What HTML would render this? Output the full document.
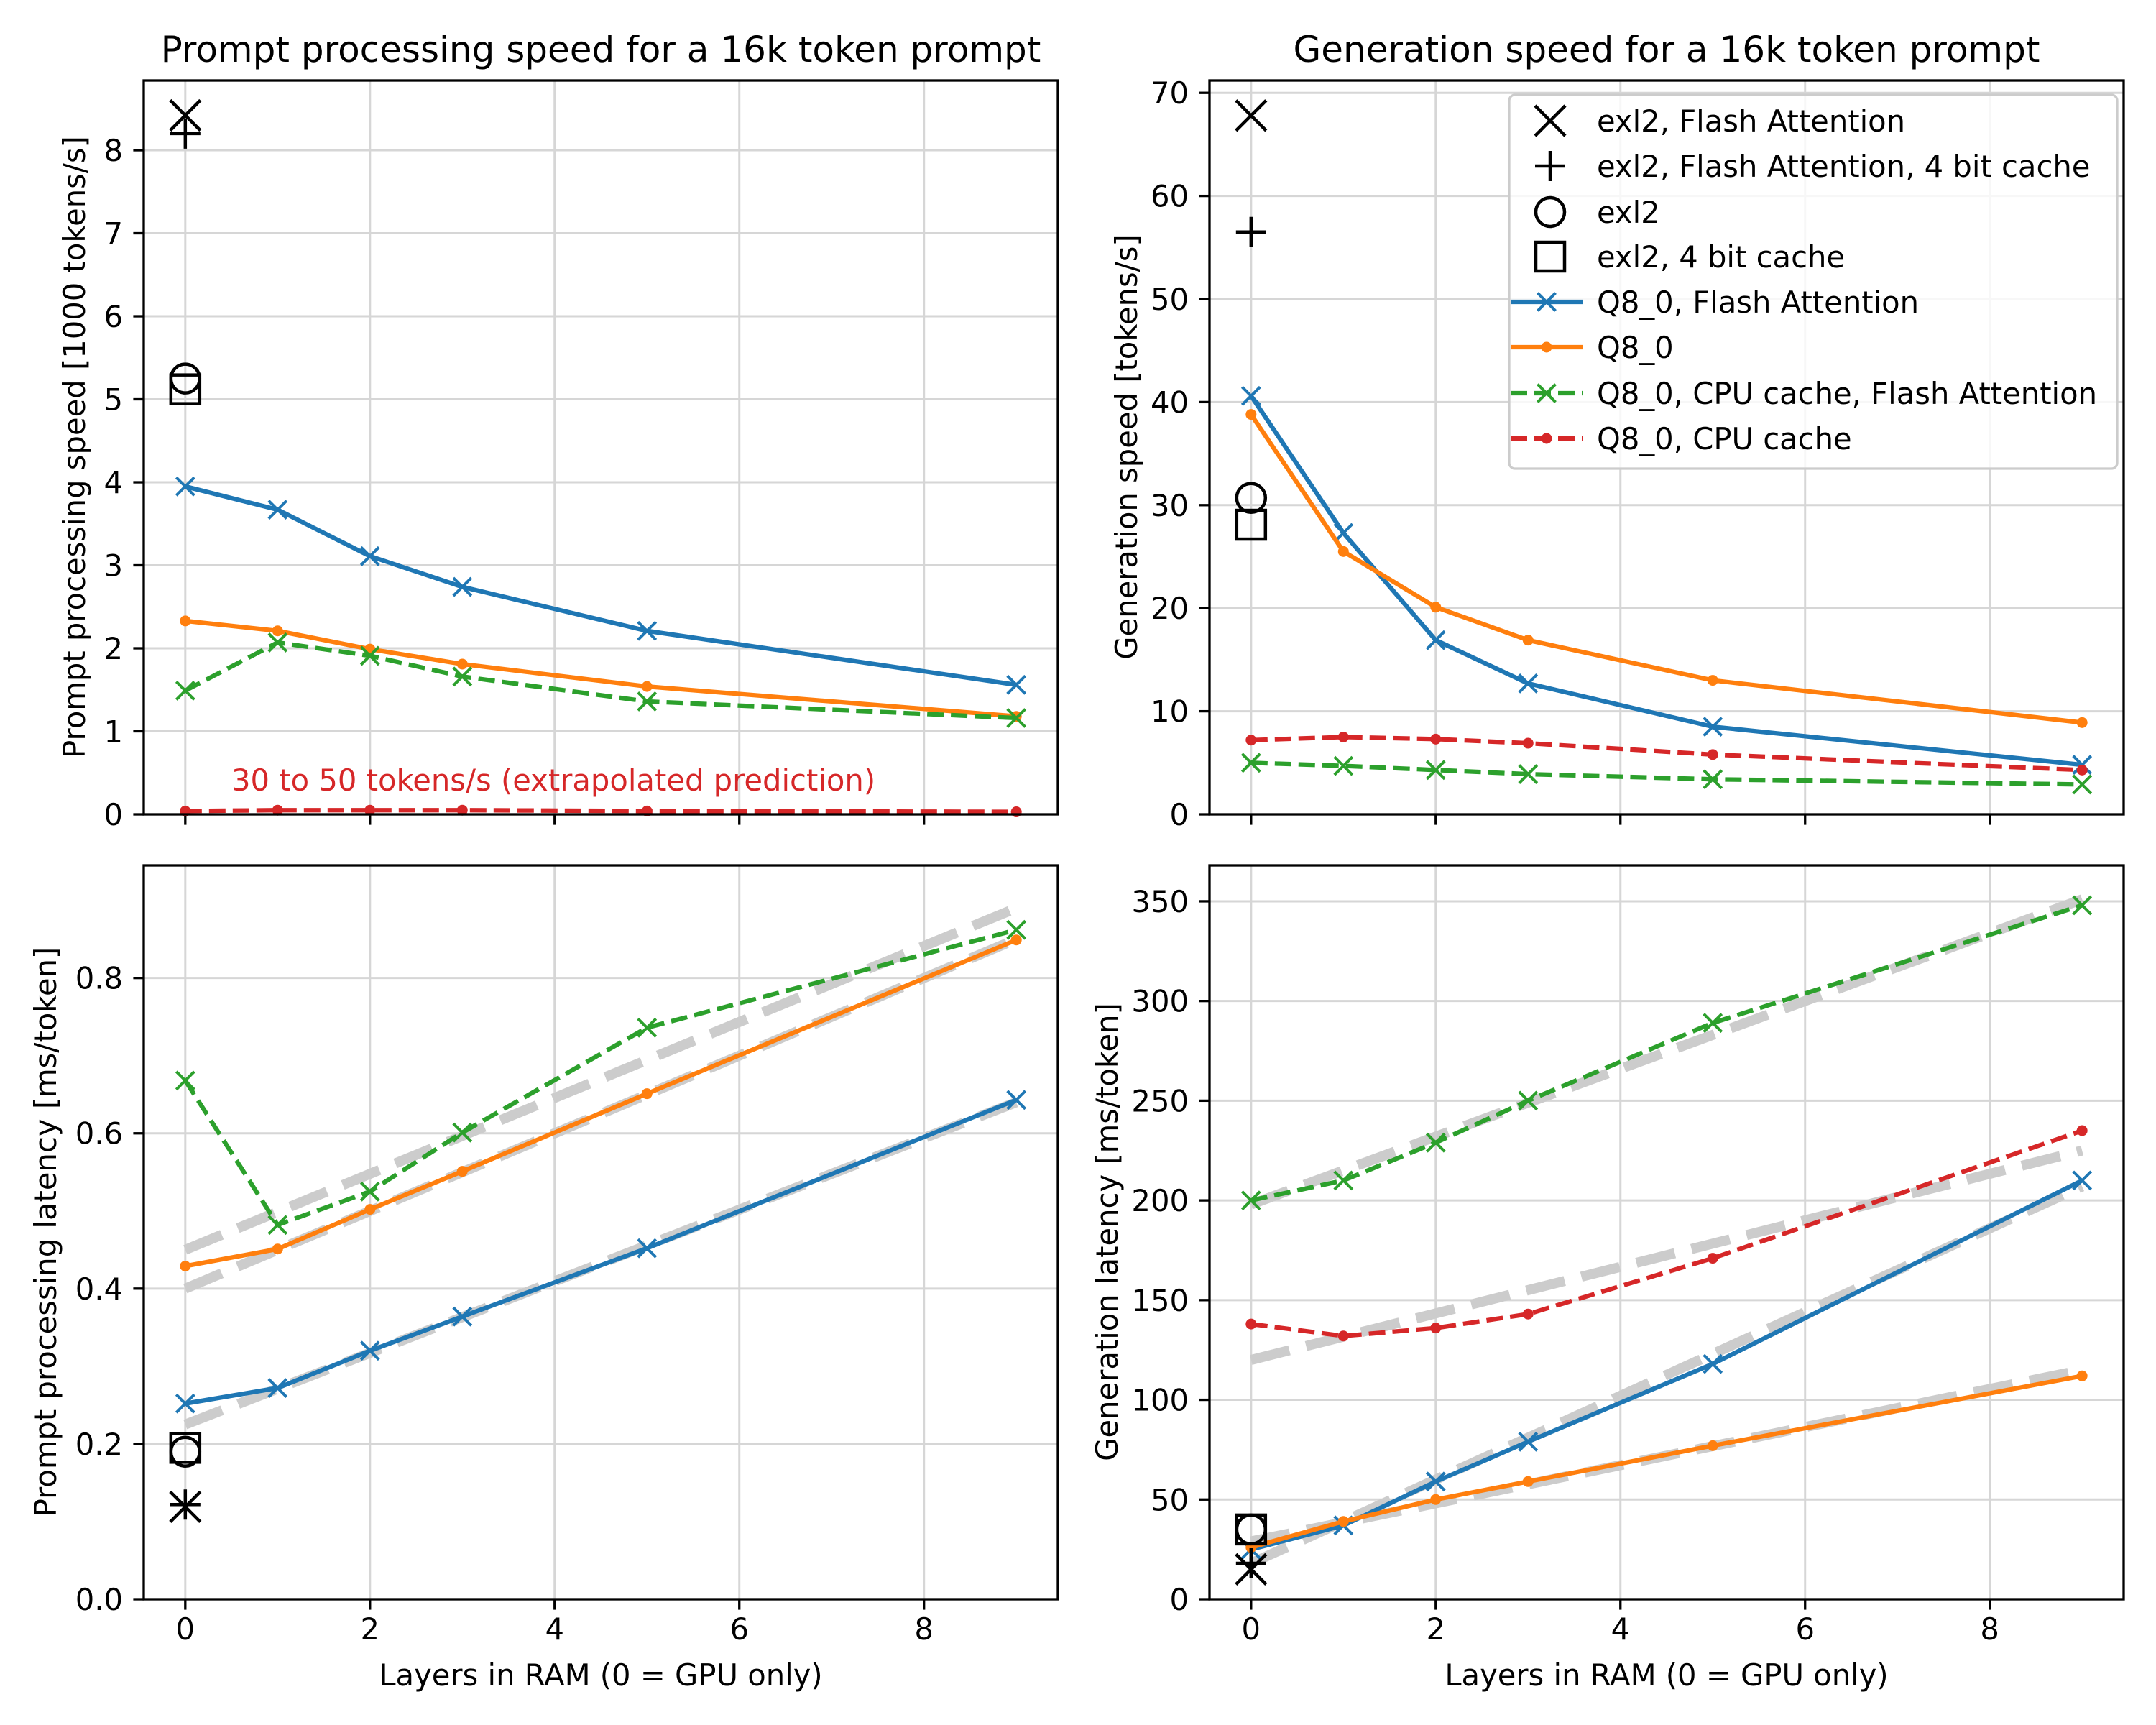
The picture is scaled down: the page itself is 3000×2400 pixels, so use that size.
<!DOCTYPE html>
<html><head><meta charset="utf-8"><style>
html,body{margin:0;padding:0;background:#fff;}
svg{display:block;font-family:"DejaVu Sans","Liberation Sans",sans-serif;}
</style></head><body>
<svg id="fig" width="3000" height="2400" viewBox="0 0 3000 2400" xmlns="http://www.w3.org/2000/svg"></svg>
<script>
// ---------- data ----------
const xs = [0, 1, 2, 3, 5, 9];
const xTicks = [0, 2, 4, 6, 8];

// Top-left: prompt processing speed [1000 tokens/s]
const ppFA = [3.95, 3.67, 3.11, 2.74, 2.21, 1.56];
const ppQ8 = [2.33, 2.21, 1.99, 1.81, 1.54, 1.18];
const ppCpuFA = [1.49, 2.07, 1.91, 1.66, 1.36, 1.16];
const ppCpu = [0.04, 0.05, 0.05, 0.05, 0.04, 0.03];
const ppExl2 = [8.42, 8.2, 5.25, 5.12]; // X, +, O, square
const ppTicks = [0, 1, 2, 3, 4, 5, 6, 7, 8];

// Top-right: generation speed [tokens/s]
const gsFA = [40.6, 27.3, 16.9, 12.7, 8.5, 4.8];
const gsQ8 = [38.8, 25.5, 20.1, 16.9, 13.0, 8.9];
const gsCpuFA = [5.0, 4.7, 4.3, 3.9, 3.4, 2.9];
const gsCpu = [7.2, 7.5, 7.3, 6.9, 5.8, 4.3];
const gsExl2 = [67.8, 56.5, 30.7, 28.1];
const gsTicks = [0, 10, 20, 30, 40, 50, 60, 70];

// Bottom-left: prompt processing latency [ms/token]
const plFA = [0.252, 0.272, 0.320, 0.364, 0.452, 0.643];
const plQ8 = [0.429, 0.451, 0.502, 0.551, 0.651, 0.849];
const plCpuFA = [0.668, 0.482, 0.525, 0.601, 0.736, 0.862];
const plExl2 = [0.119, 0.122, 0.19, 0.195];
const plFitFA = [0.225, 0.64];
const plFitQ8 = [0.40, 0.85];
const plFitCpuFA = [0.45, 0.89];
const plTicks = [0.0, 0.2, 0.4, 0.6, 0.8];

// Bottom-right: generation latency [ms/token]
const glFA = [25, 37, 59, 79, 118, 210];
const glQ8 = [26, 39, 50, 59, 77, 112];
const glCpuFA = [200, 210, 229, 250, 289, 348];
const glCpu = [138, 132, 136, 143, 171, 235];
const glExl2 = [15, 18, 35, 35];
const glFitFA = [18, 207];
const glFitQ8 = [29, 115];
const glFitCpuFA = [198, 351];
const glFitCpu = [120, 225];
const glTicks = [0, 50, 100, 150, 200, 250, 300, 350];

const fitX = [0, 9];
const legendLabels = ["exl2, Flash Attention", "exl2, Flash Attention, 4 bit cache", "exl2", "exl2, 4 bit cache",
  "Q8_0, Flash Attention", "Q8_0", "Q8_0, CPU cache, Flash Attention", "Q8_0, CPU cache"];

// ---------- helpers ----------
const NS = "http://www.w3.org/2000/svg";
const svg = document.getElementById("fig");
const BLUE = "#1f77b4", ORANGE = "#ff7f0e", GREEN = "#2ca02c", RED = "#d62728";
function mk(tag, attrs, parent) {
  const e = document.createElementNS(NS, tag);
  for (const k in attrs) e.setAttribute(k, attrs[k]);
  (parent || svg).appendChild(e);
  return e;
}
function txt(s, attrs, parent) { const e = mk("text", attrs, parent); e.textContent = s; return e; }

function makeAxes(L, T, R, B, ymax, name) {
  const xmin = -0.45, xmax = 9.45;
  const g = mk("g", {});
  
  
  return {
    g, L, T, R, B,
    sx: v => L + (v - xmin) / (xmax - xmin) * (R - L),
    sy: v => B - v / ymax * (B - T)
  };
}

function xMarker(g, cx, cy, s, color, w) {
  mk("path", { d: `M${cx - s} ${cy - s}L${cx + s} ${cy + s}M${cx - s} ${cy + s}L${cx + s} ${cy - s}`, stroke: color, "stroke-width": w, fill: "none" }, g);
}
function plusMarker(g, cx, cy, s, color, w) {
  mk("path", { d: `M${cx - s} ${cy}L${cx + s} ${cy}M${cx} ${cy - s}L${cx} ${cy + s}`, stroke: color, "stroke-width": w, fill: "none" }, g);
}

function drawFrame(ax, yTicks, fmt, showXLabels) {
  const g = ax.g;
  for (const t of xTicks) {
    const l = mk("line", { x1: ax.sx(t), x2: ax.sx(t), y1: ax.T, y2: ax.B, stroke: "#d6d6d6", "stroke-width": 3 }, g);
    
    
  }
  for (const t of yTicks) {
    const l = mk("line", { x1: ax.L, x2: ax.R, y1: ax.sy(t), y2: ax.sy(t), stroke: "#d6d6d6", "stroke-width": 3 }, g);
    
    
  }
  for (const t of xTicks) {
    mk("line", { x1: ax.sx(t), x2: ax.sx(t), y1: ax.B, y2: ax.B + 14.6, stroke: "#000", "stroke-width": 3.3 }, g);
    if (showXLabels) {
      const e = txt(String(t), { x: ax.sx(t), y: ax.B + 56, "font-size": 41.7, "text-anchor": "middle", fill: "#000" }, g);
      
      
    }
  }
  for (const t of yTicks) {
    mk("line", { x1: ax.L - 14.6, x2: ax.L, y1: ax.sy(t), y2: ax.sy(t), stroke: "#000", "stroke-width": 3.3 }, g);
    const e = txt(fmt(t), { x: ax.L - 29, y: ax.sy(t) + 15, "font-size": 41.7, "text-anchor": "end", fill: "#000" }, g);
    
    
  }
}

function drawSpines(ax) {
  const r = mk("rect", { x: ax.L, y: ax.T, width: ax.R - ax.L, height: ax.B - ax.T, fill: "none", stroke: "#000", "stroke-width": 3.3 }, ax.g);
  
  
}

function drawFit(ax, vals, name) {
  const p = mk("line", { x1: ax.sx(fitX[0]), y1: ax.sy(vals[0]), x2: ax.sx(fitX[1]), y2: ax.sy(vals[1]),
    stroke: "#cccccc", "stroke-width": 14, "stroke-dasharray": "55,24" }, ax.g);
  
  
}

function drawSeries(ax, vals, color, dashed, marker, name) {
  const g = mk("g", {}, ax.g);
  
  
  const pts = vals.map((v, i) => ax.sx(xs[i]) + "," + ax.sy(v)).join(" ");
  const a = { points: pts, fill: "none", stroke: color, "stroke-width": 6.25, "stroke-linejoin": "round" };
  if (dashed) a["stroke-dasharray"] = "23,10";
  mk("polyline", a, g);
  vals.forEach((v, i) => {
    const cx = ax.sx(xs[i]), cy = ax.sy(v);
    if (marker === "x") xMarker(g, cx, cy, 12.5, color, 4);
    else mk("circle", { cx, cy, r: 7.5, fill: color }, g);
  });
}

function drawExl2(ax, vals) {
  const g = mk("g", {}, ax.g);
  
  
  const cx = ax.sx(0);
  xMarker(g, cx, ax.sy(vals[0]), 21, "#000", 4.5);
  plusMarker(g, cx, ax.sy(vals[1]), 21, "#000", 4.5);
  mk("circle", { cx, cy: ax.sy(vals[2]), r: 20, fill: "none", stroke: "#000", "stroke-width": 4.5 }, g);
  mk("rect", { x: cx - 20, y: ax.sy(vals[3]) - 20, width: 40, height: 40, fill: "none", stroke: "#000", "stroke-width": 4.5 }, g);
}

function title(s, x, y) {
  const e = txt(s, { x, y, "font-size": 50, "text-anchor": "middle", fill: "#000" });
  
  
}
function ylabel(s, x, yc) {
  const e = txt(s, { x: 0, y: 0, "font-size": 41.7, "text-anchor": "middle", fill: "#000", transform: `translate(${x},${yc}) rotate(-90)` });
  
  
}
function xlabel(s, x, y) {
  const e = txt(s, { x, y, "font-size": 41.7, "text-anchor": "middle", fill: "#000" });
  
  
}

const f0 = t => String(t), f1 = t => t.toFixed(1);

// ---------- top-left ----------
const a1 = makeAxes(200, 112, 1472, 1133, 8.84, "prompt-speed-panel");
drawFrame(a1, ppTicks, f0, false);
drawSeries(a1, ppFA, BLUE, false, "x", "series-q8-flash-attention");
drawSeries(a1, ppQ8, ORANGE, false, "o", "series-q8");
drawSeries(a1, ppCpuFA, GREEN, true, "x", "series-q8-cpu-cache-flash-attention");
drawSeries(a1, ppCpu, RED, true, "o", "series-q8-cpu-cache");
drawExl2(a1, ppExl2);
const ann = txt("30 to 50 tokens/s (extrapolated prediction)", { x: 322, y: 1100, "font-size": 41.7, fill: RED }, a1.g);


drawSpines(a1);
title("Prompt processing speed for a 16k token prompt", 836, 86);
ylabel("Prompt processing speed [1000 tokens/s]", 118, 622);

// ---------- top-right ----------
const a2 = makeAxes(1683, 112, 2955, 1133, 71.2, "generation-speed-panel");
drawFrame(a2, gsTicks, f0, false);
drawSeries(a2, gsFA, BLUE, false, "x", "series-q8-flash-attention");
drawSeries(a2, gsQ8, ORANGE, false, "o", "series-q8");
drawSeries(a2, gsCpuFA, GREEN, true, "x", "series-q8-cpu-cache-flash-attention");
drawSeries(a2, gsCpu, RED, true, "o", "series-q8-cpu-cache");
drawExl2(a2, gsExl2);
drawSpines(a2);
title("Generation speed for a 16k token prompt", 2319, 86);
ylabel("Generation speed [tokens/s]", 1582, 622);

// legend
(function () {
  const g = mk("g", {});
  
  
  mk("rect", { x: 2100, y: 132, width: 846, height: 520, rx: 8, fill: "#fff", "fill-opacity": 0.8, stroke: "#cccccc", "stroke-width": 3.3 }, g);
  const rows = [168, 231, 295, 357, 420, 483, 547, 610];
  const mx = 2157;
  legendLabels.forEach((lab, i) => {
    const y = rows[i];
    const eg = mk("g", {}, g);
    
    
    if (i === 0) xMarker(eg, mx, y, 21, "#000", 4.5);
    if (i === 1) plusMarker(eg, mx, y, 21, "#000", 4.5);
    if (i === 2) mk("circle", { cx: mx, cy: y, r: 20, fill: "none", stroke: "#000", "stroke-width": 4.5 }, eg);
    if (i === 3) mk("rect", { x: mx - 20, y: y - 20, width: 40, height: 40, fill: "none", stroke: "#000", "stroke-width": 4.5 }, eg);
    const cols = [null, null, null, null, BLUE, ORANGE, GREEN, RED];
    if (i >= 4) {
      const a = { x1: mx - 55, x2: mx + 45, y1: y, y2: y, stroke: cols[i], "stroke-width": 6.25 };
      if (i >= 6) a["stroke-dasharray"] = "23,10";
      mk("line", a, eg);
      if (i === 4 || i === 6) xMarker(eg, mx - 5, y, 12.5, cols[i], 4);
      else mk("circle", { cx: mx - 5, cy: y, r: 7.5, fill: cols[i] }, eg);
    }
    txt(lab, { x: 2222, y: y + 15, "font-size": 41.7, fill: "#000", textLength: null }, eg).removeAttribute("textLength");
  });
})();

// ---------- bottom-left ----------
const a3 = makeAxes(200, 1204, 1472, 2225, 0.945, "prompt-latency-panel");
drawFrame(a3, plTicks, f1, true);
drawFit(a3, plFitFA, "fit-q8-flash-attention");
drawFit(a3, plFitQ8, "fit-q8");
drawFit(a3, plFitCpuFA, "fit-q8-cpu-cache-flash-attention");
drawSeries(a3, plFA, BLUE, false, "x", "series-q8-flash-attention");
drawSeries(a3, plQ8, ORANGE, false, "o", "series-q8");
drawSeries(a3, plCpuFA, GREEN, true, "x", "series-q8-cpu-cache-flash-attention");
drawExl2(a3, plExl2);
drawSpines(a3);
ylabel("Prompt processing latency [ms/token]", 78, 1714);
xlabel("Layers in RAM (0 = GPU only)", 836, 2345);

// ---------- bottom-right ----------
const a4 = makeAxes(1683, 1204, 2955, 2225, 368, "generation-latency-panel");
drawFrame(a4, glTicks, f0, true);
drawFit(a4, glFitCpuFA, "fit-q8-cpu-cache-flash-attention");
drawFit(a4, glFitCpu, "fit-q8-cpu-cache");
drawFit(a4, glFitFA, "fit-q8-flash-attention");
drawFit(a4, glFitQ8, "fit-q8");
drawSeries(a4, glFA, BLUE, false, "x", "series-q8-flash-attention");
drawSeries(a4, glQ8, ORANGE, false, "o", "series-q8");
drawSeries(a4, glCpuFA, GREEN, true, "x", "series-q8-cpu-cache-flash-attention");
drawSeries(a4, glCpu, RED, true, "o", "series-q8-cpu-cache");
drawExl2(a4, glExl2);
drawSpines(a4);
ylabel("Generation latency [ms/token]", 1555, 1714);
xlabel("Layers in RAM (0 = GPU only)", 2319, 2345);
</script>
</body></html>
